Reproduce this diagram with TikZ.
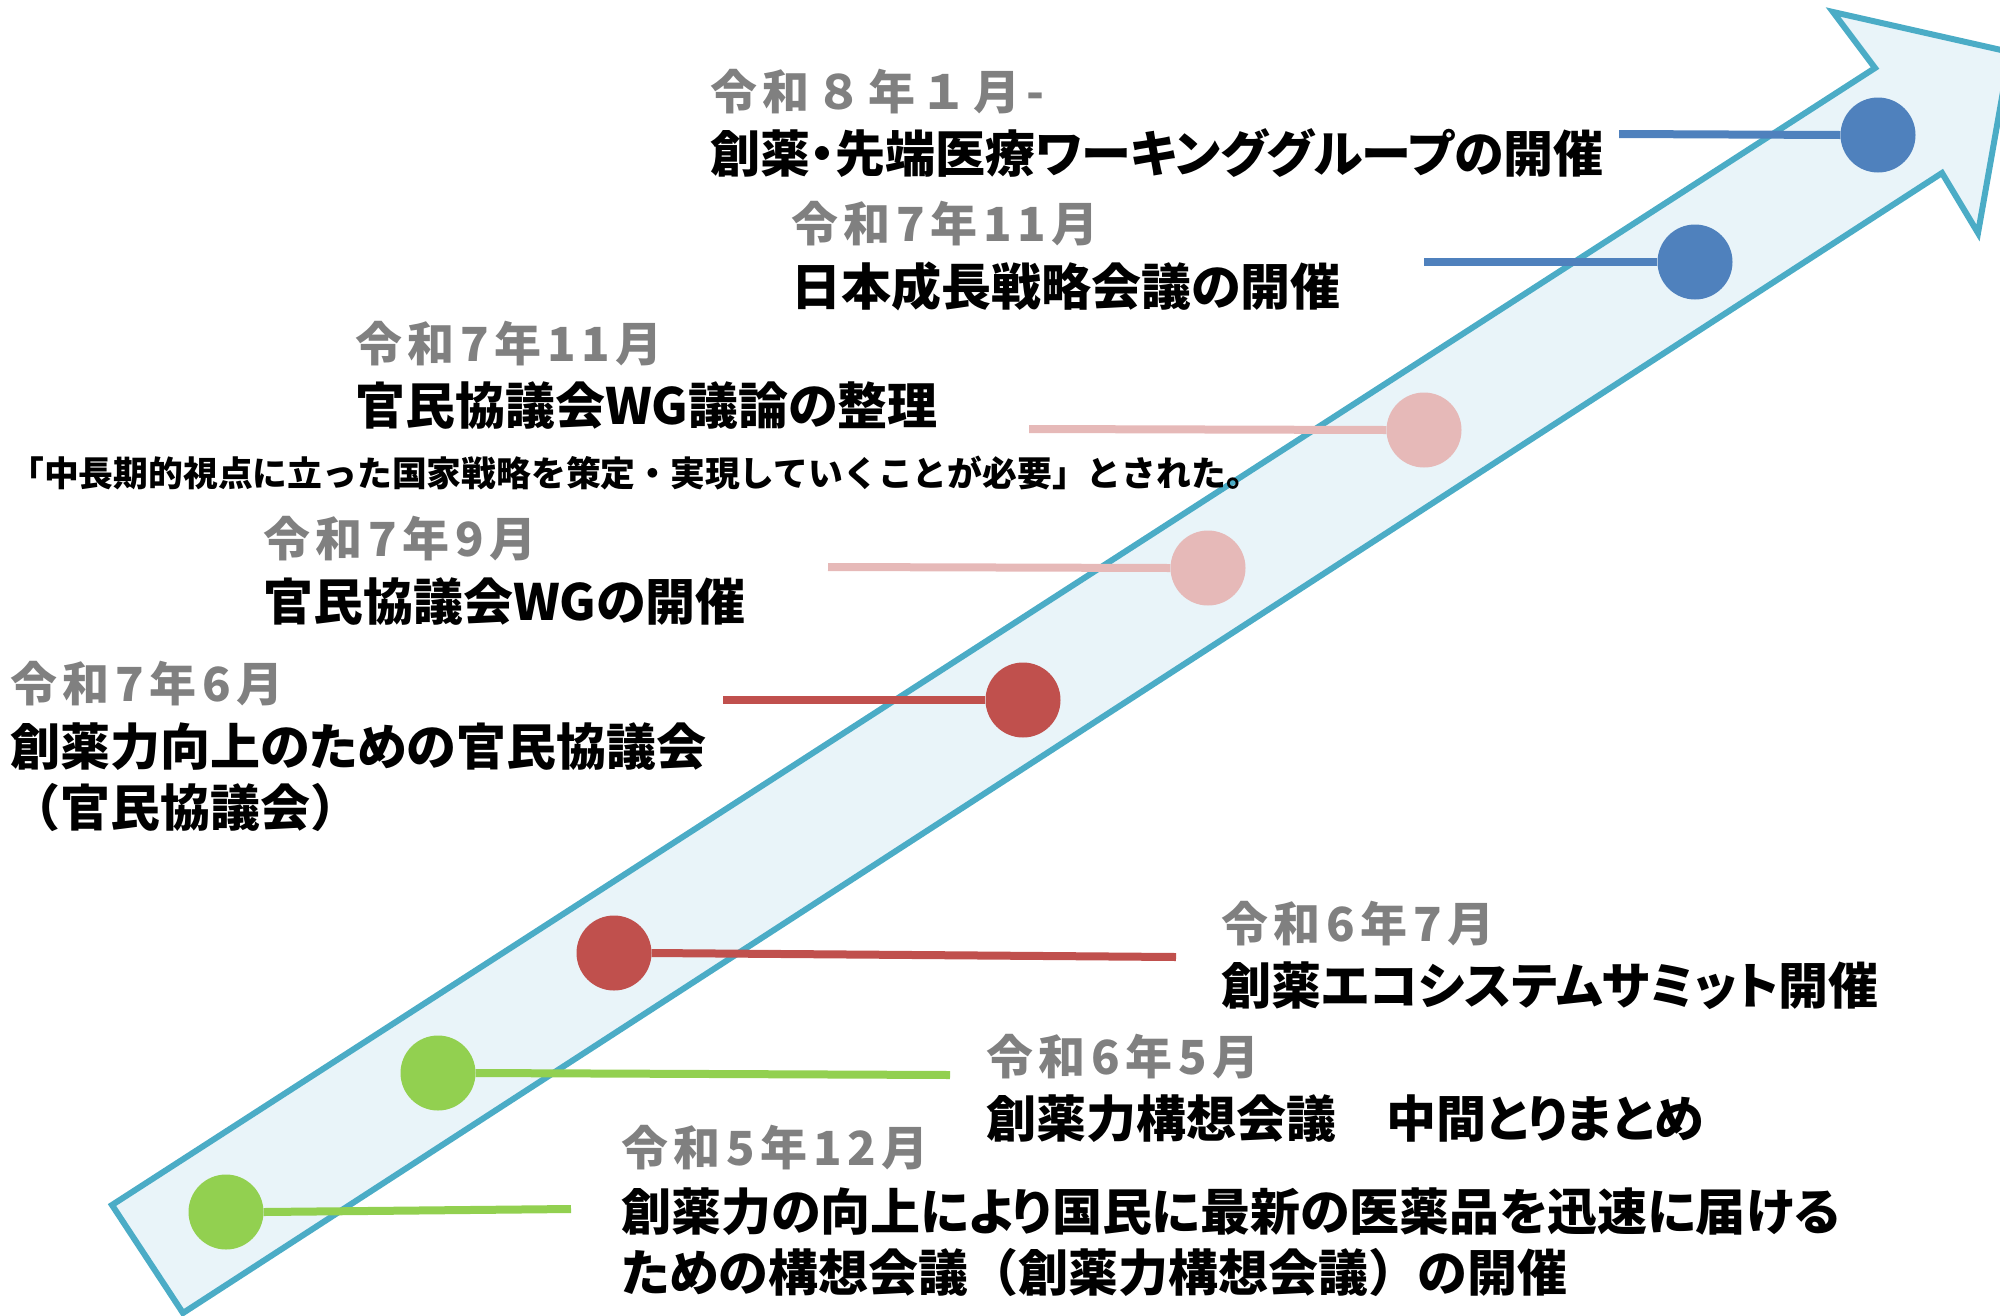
\documentclass[tikz,border=0pt]{standalone}
\usepackage{fontspec}
\setmainfont{Noto Sans CJK JP}
\definecolor{arrowedge}{HTML}{4BACC6}
\definecolor{arrowbody}{HTML}{E9F4F9}
\definecolor{stepgreen}{HTML}{92D050}
\definecolor{stepred}{HTML}{C0504D}
\definecolor{steppink}{HTML}{E6B9B8}
\definecolor{stepblue}{HTML}{4F81BD}
\definecolor{dategray}{HTML}{808080}
\newcommand{\fullbr}[1]{{\addfontfeature{RawFeature=-palt}#1}}
\tikzset{
  datelabel/.style={anchor=west, inner sep=0pt, text=dategray, font=\bfseries\fontsize{47}{56}\selectfont\addfontfeature{LetterSpace=12}},
  eventlabel/.style={anchor=west, inner sep=0pt, align=left, font=\bfseries\fontsize{50}{61}\selectfont\addfontfeature{RawFeature=+palt}},
  notelabel/.style={anchor=west, inner sep=0pt, font=\bfseries\fontsize{34.8}{40}\selectfont},
  milestone/.style={circle, inner sep=0pt, minimum size=75pt},
  leader/.style={line width=8pt}
}

\begin{document}
\begin{tikzpicture}[x=1pt, y=-1pt]
\useasboundingbox (0,0) rectangle (2000,1315);
\filldraw[draw=arrowedge, fill=arrowbody, line width=6pt] (112,1205) -- (1875,68) -- (1833,12) -- (2010,52) -- (1978,233) -- (1942,173) -- (183,1313) -- cycle;

\node[milestone, fill=stepgreen] (c1) at (226,1212) {};
\node[milestone, fill=stepgreen] (c2) at (438,1073) {};
\node[milestone, fill=stepred] (c3) at (614,953) {};
\node[milestone, fill=stepred] (c4) at (1023,700) {};
\node[milestone, fill=steppink] (c5) at (1208,568) {};
\node[milestone, fill=steppink] (c6) at (1424,430) {};
\node[milestone, fill=stepblue] (c7) at (1695,262) {};
\node[milestone, fill=stepblue] (c8) at (1878,135) {};

\coordinate (e1) at (571,1209);
\coordinate (e2) at (950,1075);
\coordinate (e3) at (1176,957);
\coordinate (e4) at (723,700);
\coordinate (e5) at (828,567);
\coordinate (e6) at (1029,429);
\coordinate (e7) at (1424,262);
\coordinate (e8) at (1619,134);
\draw[leader, stepgreen] (c1.east) -- (e1);
\draw[leader, stepgreen] (c2.east) -- (e2);
\draw[leader, stepred] (c3.east) -- (e3);
\draw[leader, stepred] (c4.west) -- (e4);
\draw[leader, steppink] (c5.west) -- (e5);
\draw[leader, steppink] (c6.west) -- (e6);
\draw[leader, stepblue] (c7.west) -- (e7);
\draw[leader, stepblue] (c8.west) -- (e8);

\node (d1) at (621,1148) [datelabel] {令和5年12月};
\node (t1) at (621,1242) [eventlabel] {創薬力の向上により国民に最新の医薬品を迅速に届ける\\ための構想会議\fullbr{（}創薬力構想会議\fullbr{）}の開催};
\node (d2) at (986,1057) [datelabel] {令和6年5月};
\node (t2) at (986,1119) [eventlabel] {創薬力構想会議　中間とりまとめ};
\node (d3) at (1221,924) [datelabel] {令和6年7月};
\node (t3) at (1221,986) [eventlabel] {創薬エコシステムサミット開催};
\node (d4) at (10,684) [datelabel] {令和7年6月};
\node (t4) at (10,777) [eventlabel] {創薬力向上のための官民協議会\\\fullbr{（}官民協議会\fullbr{）}};
\node (d5) at (263,539) [datelabel] {令和7年9月};
\node (t5) at (263,602) [eventlabel] {官民協議会WGの開催};
\node (d6) at (355,344) [datelabel] {令和7年11月};
\node (t6) at (355,406) [eventlabel] {官民協議会WG議論の整理};
\node (n6) at (9,473) [notelabel] {「中長期的視点に立った国家戦略を策定・実現していくことが必要」とされた。};
\node (d7) at (791,224) [datelabel] {令和7年11月};
\node (t7) at (791,286) [eventlabel] {日本成長戦略会議の開催};
\node (d8) at (710,92) [datelabel] {令和８年１月-};
\node (t8) at (710,153) [eventlabel] {創薬・先端医療ワーキンググループの開催};
\end{tikzpicture}
\end{document}
